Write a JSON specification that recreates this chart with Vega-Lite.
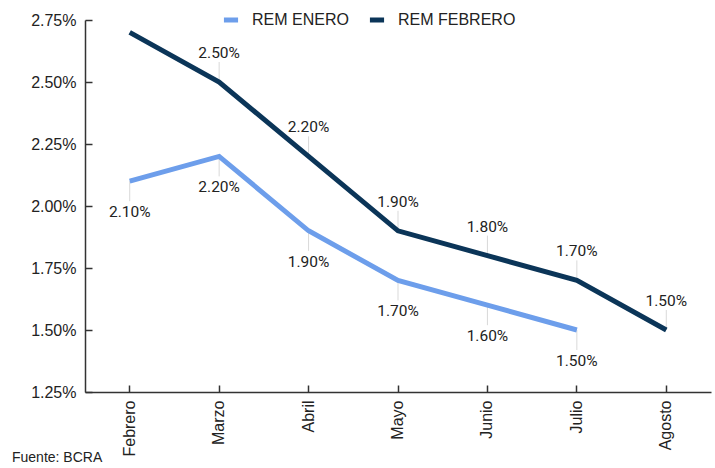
{
  "$schema": "https://vega.github.io/schema/vega-lite/v6.json",
  "autosize": "none",
  "width": 626,
  "height": 372,
  "padding": {"left": 85, "top": 20, "right": 4, "bottom": 76},
  "background": "white",
  "config": {
    "view": {"stroke": null},
    "font": "Liberation Sans"
  },
  "title": {
    "text": "Fuente: BCRA",
    "orient": "bottom",
    "anchor": "start",
    "frame": "group",
    "dx": -73,
    "offset": -5,
    "fontSize": 14,
    "fontWeight": "normal",
    "color": "#222222",
    "font": "Liberation Sans"
  },
  "data": {
    "values": [
      {"mes": "Febrero", "serie": "REM ENERO", "valor": 0.021},
      {"mes": "Marzo", "serie": "REM ENERO", "valor": 0.022},
      {"mes": "Abril", "serie": "REM ENERO", "valor": 0.019},
      {"mes": "Mayo", "serie": "REM ENERO", "valor": 0.017},
      {"mes": "Junio", "serie": "REM ENERO", "valor": 0.016},
      {"mes": "Julio", "serie": "REM ENERO", "valor": 0.015},
      {"mes": "Febrero", "serie": "REM FEBRERO", "valor": 0.027},
      {"mes": "Marzo", "serie": "REM FEBRERO", "valor": 0.025},
      {"mes": "Abril", "serie": "REM FEBRERO", "valor": 0.022},
      {"mes": "Mayo", "serie": "REM FEBRERO", "valor": 0.019},
      {"mes": "Junio", "serie": "REM FEBRERO", "valor": 0.018},
      {"mes": "Julio", "serie": "REM FEBRERO", "valor": 0.017},
      {"mes": "Agosto", "serie": "REM FEBRERO", "valor": 0.015}
    ]
  },
  "encoding": {
    "x": {
      "field": "mes",
      "type": "nominal",
      "sort": ["Febrero", "Marzo", "Abril", "Mayo", "Junio", "Julio", "Agosto"],
      "scale": {"paddingInner": 0, "paddingOuter": 0},
      "axis": {
        "title": null,
        "labelAngle": -90,
        "labelAlign": "right",
        "labelBaseline": "middle",
        "labelFontSize": 16,
        "labelColor": "#222222",
        "labelPadding": 15,
        "tickSize": -7,
        "tickColor": "#333333",
        "tickWidth": 1.5,
        "domainColor": "#333333",
        "domainWidth": 1.5,
        "grid": false
      }
    },
    "y": {
      "field": "valor",
      "type": "quantitative",
      "scale": {"domain": [0.0125, 0.0275], "nice": false, "zero": false},
      "axis": {
        "title": null,
        "format": ".2%",
        "values": [0.0125, 0.015, 0.0175, 0.02, 0.0225, 0.025, 0.0275],
        "labelFontSize": 16,
        "labelColor": "#222222",
        "labelPadding": 16,
        "tickSize": -7,
        "tickColor": "#333333",
        "tickWidth": 1.5,
        "domainColor": "#333333",
        "domainWidth": 1.5,
        "grid": false
      }
    }
  },
  "layer": [
    {
      "transform": [{"filter": "datum.serie == 'REM FEBRERO' && datum.mes != 'Febrero'"}],
      "mark": {"type": "rule", "color": "#d9d9d9", "strokeWidth": 1, "y2Offset": -20},
      "encoding": {
        "y2": {"field": "valor"}
      }
    },
    {
      "transform": [{"filter": "datum.serie == 'REM ENERO'"}],
      "mark": {"type": "rule", "color": "#d9d9d9", "strokeWidth": 1, "y2Offset": 20},
      "encoding": {
        "y2": {"field": "valor"}
      }
    },
    {
      "mark": {"type": "line", "strokeWidth": 5},
      "encoding": {
        "color": {
          "field": "serie",
          "type": "nominal",
          "scale": {"domain": ["REM ENERO", "REM FEBRERO"], "range": ["#6d9eeb", "#0b3558"]},
          "legend": {
            "title": null,
            "orient": "none",
            "legendX": 136,
            "legendY": -10,
            "direction": "horizontal",
            "symbolType": "stroke",
            "symbolStrokeWidth": 5,
            "symbolSize": 200,
            "labelFontSize": 16,
            "labelColor": "#222222",
            "columnPadding": 10,
            "labelOffset": 11
          }
        }
      }
    },
    {
      "transform": [{"filter": "datum.serie == 'REM FEBRERO' && datum.mes != 'Febrero'"}],
      "mark": {"type": "text", "fontSize": 15.5, "font": "Roboto", "color": "#222222", "baseline": "middle", "yOffset": -29},
      "encoding": {
        "text": {"field": "valor", "type": "quantitative", "format": ".2%"}
      }
    },
    {
      "transform": [{"filter": "datum.serie == 'REM ENERO'"}],
      "mark": {"type": "text", "fontSize": 15.5, "font": "Roboto", "color": "#222222", "baseline": "middle", "yOffset": 31},
      "encoding": {
        "text": {"field": "valor", "type": "quantitative", "format": ".2%"}
      }
    }
  ]
}
